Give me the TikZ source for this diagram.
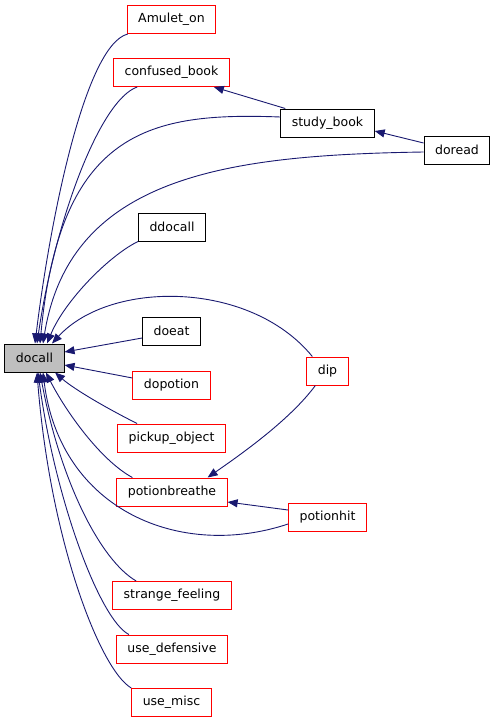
\documentclass[tikz,border=0pt]{standalone}
\usepackage{fontspec}
\setmainfont{DejaVu Sans}
\usetikzlibrary{arrows.meta}
\definecolor{edgeNavy}{HTML}{191970}
\definecolor{boxRed}{HTML}{FF0000}
\definecolor{mainGray}{HTML}{BFBFBF}
\tikzset{
    fnbox/.style={draw=black,fill=white,line width=1pt,minimum height=28pt,
        inner xsep=11pt,inner ysep=0pt,font=\fontsize{12.5}{14}\selectfont},
    fnred/.style={fnbox,draw=boxRed},
    fnmain/.style={fnbox,fill=mainGray},
    callarrow/.style={-{Triangle[length=10pt,width=8pt]},draw=edgeNavy,
        line width=0.9pt}
}
\begin{document}
\begin{tikzpicture}[x=1pt,y=-1pt]
    \useasboundingbox (0,0) rectangle (496,723);
    % callee
    \node[fnmain] (docall) at (34.5,358) {docall};
    % callers
    \node[fnred] (amulet) at (171.5,19.5) {Amulet\_on};
    \node[fnred] (confused) at (171.5,72.5) {confused\_book};
    \node[fnbox] (study) at (327.5,123) {study\_book};
    \node[fnbox] (doread) at (457,150) {doread};
    \node[fnbox] (ddocall) at (172,227) {ddocall};
    \node[fnbox] (doeat) at (171.5,331) {doeat};
    \node[fnred] (dopotion) at (171.5,385) {dopotion};
    \node[fnred] (dip) at (327.5,371) {dip};
    \node[fnred] (pickup) at (171.5,438) {pickup\_object};
    \node[fnred] (breathe) at (172,492) {potionbreathe};
    \node[fnred] (hit) at (327.5,517) {potionhit};
    \node[fnred] (strange) at (172,595.5) {strange\_feeling};
    \node[fnred] (usedef) at (172,649) {use\_defensive};
    \node[fnred] (usemisc) at (171.5,702.5) {use\_misc};
    % calls into docall, above
    \draw[callarrow] ([xshift=1pt]amulet.south west) .. controls (85,45) and (50,220) .. ([xshift=0.5pt]docall.north);
    \draw[callarrow] ([xshift=24pt]confused.south west) .. controls (100,100) and (55,220) .. ([xshift=2.5pt]docall.north);
    \draw[callarrow] ([yshift=6pt]study.west) .. controls (150,112) and (60,130) .. ([xshift=5.5pt]docall.north);
    \draw[callarrow] ([yshift=-2pt]doread.west) .. controls (230,155) and (70,175) .. ([xshift=8.5pt]docall.north);
    \draw[callarrow] (ddocall.south west) .. controls (110,255) and (65,300) .. ([xshift=12.5pt]docall.north);
    \draw[callarrow] ([xshift=6pt]dip.north west) .. controls (250,280) and (110,280) .. ([xshift=17.5pt]docall.north);
    % calls into docall, side
    \draw[callarrow] ([yshift=-7pt]doeat.west) -- ([yshift=6pt]docall.east);
    \draw[callarrow] ([yshift=7pt]dopotion.west) -- ([yshift=-7pt]docall.east);
    % calls into docall, below
    \draw[callarrow] ([xshift=20pt]pickup.north west) .. controls (110,410) and (75,390) .. ([xshift=20.5pt]docall.south);
    \draw[callarrow] ([xshift=16pt]breathe.north west) .. controls (100,460) and (65,410) .. ([xshift=11.5pt]docall.south);
    \draw[callarrow] ([yshift=-7pt]hit.west) .. controls (180,560) and (60,510) .. ([xshift=8.5pt]docall.south);
    \draw[callarrow] ([xshift=24pt]strange.north west) .. controls (100,560) and (60,480) .. ([xshift=5.5pt]docall.south);
    \draw[callarrow] ([xshift=13pt]usedef.north west) .. controls (100,620) and (55,500) .. ([xshift=3.5pt]docall.south);
    \draw[callarrow] (usemisc.north west) .. controls (100,670) and (50,540) .. ([xshift=2.5pt]docall.south);
    % other calls
    \draw[callarrow] ([xshift=5pt]study.north west) -- ([xshift=-16pt]confused.south east);
    \draw[callarrow] ([yshift=7pt]doread.west) -- ([yshift=-8pt]study.east);
    \draw[callarrow] ([xshift=9pt]dip.south west) .. controls (290,420) and (240,455) .. ([xshift=-20pt]breathe.north east);
    \draw[callarrow] ([yshift=7pt]hit.west) -- ([yshift=-10pt]breathe.east);
\end{tikzpicture}
\end{document}
